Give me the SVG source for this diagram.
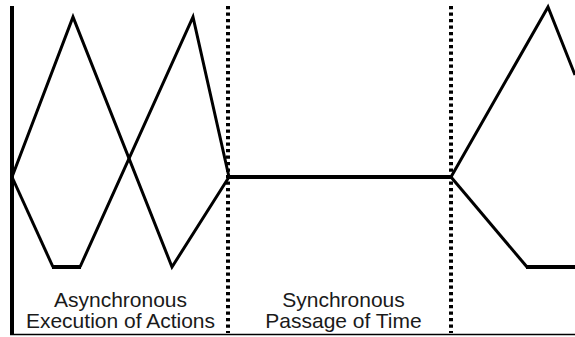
<svg xmlns="http://www.w3.org/2000/svg" width="575" height="337" viewBox="0 0 575 337">
<style>
.w{fill:none;stroke:#000;stroke-width:3;stroke-linejoin:miter;stroke-linecap:butt}
.h{fill:none;stroke:#000;stroke-width:4}
.dot{fill:none;stroke:#000;stroke-width:4;stroke-dasharray:3.3 3.2}
.t{font-family:"Liberation Sans",Arial,sans-serif;font-size:21px;fill:#1a1a1a;text-anchor:middle}
</style>
<rect width="575" height="337" fill="#fff"/>
<g id="axes">
<line x1="12" y1="6" x2="12" y2="335" stroke="#000" stroke-width="4"/>
<line x1="10" y1="334.5" x2="575" y2="334.5" stroke="#000" stroke-width="1.5"/>
</g>
<g id="dividers">
<line class="dot" x1="228" y1="6" x2="228" y2="333"/>
<line class="dot" x1="451" y1="6" x2="451" y2="333"/>
</g>
<g id="waves">
<polyline class="w" points="12,177 73,17 172,267 229,177"/>
<polyline class="w" points="12,177 53,267"/>
<polyline class="w" points="80,267 193,17 229,177"/>
<line class="h" x1="52" y1="267" x2="81" y2="267"/>
<line class="h" x1="228" y1="177" x2="452" y2="177"/>
<polyline class="w" points="451,177 548,7 575,75"/>
<polyline class="w" points="451,177 527,267"/>
<line class="h" x1="526" y1="267" x2="575" y2="267"/>
</g>
<g id="labels">
<text class="t" x="120.5" y="306.5">Asynchronous</text>
<text class="t" x="120.5" y="327.5">Execution of Actions</text>
<text class="t" x="343.5" y="306.5">Synchronous</text>
<text class="t" x="343.5" y="327.5">Passage of Time</text>
</g>
</svg>
